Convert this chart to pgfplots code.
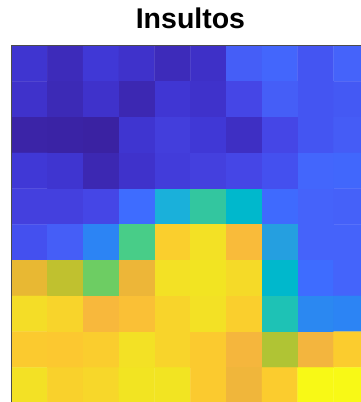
\documentclass[border=0pt]{standalone}
\usepackage{fontspec}
\setmainfont{Liberation Sans}
\usepackage{pgfplots}
\pgfplotsset{compat=1.18}
\pgfplotsset{
  colormap={insult}{
    rgb255(0pt)=(58,34,162);
    rgb255(3pt)=(60,40,178);
    rgb255(6pt)=(63,50,203);
    rgb255(8pt)=(64,56,214);
    rgb255(10pt)=(68,64,222);
    rgb255(11pt)=(69,70,230);
    rgb255(13pt)=(68,80,239);
    rgb255(17pt)=(69,99,250);
    rgb255(20pt)=(62,108,255);
    rgb255(27pt)=(44,132,244);
    rgb255(33pt)=(37,159,224);
    rgb255(38pt)=(26,176,218);
    rgb255(40pt)=(0,184,204);
    rgb255(45pt)=(30,194,181);
    rgb255(48pt)=(51,198,159);
    rgb255(52pt)=(72,205,136);
    rgb255(56pt)=(109,205,99);
    rgb255(66pt)=(176,196,52);
    rgb255(68pt)=(192,193,47);
    rgb255(74pt)=(232,184,51);
    rgb255(78pt)=(243,181,62);
    rgb255(80pt)=(248,184,60);
    rgb255(83pt)=(252,200,48);
    rgb255(88pt)=(249,209,44);
    rgb255(93pt)=(243,224,38);
    rgb255(96pt)=(242,228,34);
    rgb255(100pt)=(248,249,22)
  }
}
\begin{document}
\begin{tikzpicture}
\useasboundingbox (0,0) rectangle (361pt,402pt);
\clip (0,0) rectangle (361pt,402pt);
\begin{axis}[
  at={(11.7pt,356.3pt)}, anchor=north west,
  scale only axis, width=357.5pt, height=357.5pt,
  xmin=-0.5, xmax=9.5, ymin=-0.5, ymax=9.5,
  y dir=reverse,
  ticks=none,
  axis line style={draw=black!70, line width=0.8pt},
  colormap name=insult,
  point meta min=0, point meta max=100,
  title={Insultos},
  title style={font=\fontsize{28.5}{30}\selectfont\bfseries, at={(0.5,1)}, anchor=base, yshift=11.7pt},
  axis on top,
]
\addplot[matrix plot*, mesh/cols=10, point meta=explicit] table[meta=c] {
x y c
0 0 7
1 0 4
2 0 8
3 0 6
4 0 4
5 0 5.5
6 0 16
7 0 18
8 0 14
9 0 17
0 1 6
1 1 3.5
2 1 6
3 1 3
4 1 7.5
5 1 6
6 1 11
7 1 16
8 1 14
9 1 15
0 2 1
1 2 0.5
2 2 0
3 2 7
4 2 9.5
5 2 8
6 2 5
7 2 11
8 2 14
9 2 15.5
0 3 8
1 3 7
2 3 3
3 3 6
4 3 9
5 3 10
6 3 11
7 3 13
8 3 18
9 3 18.5
0 4 10
1 4 10
2 4 11
3 4 20
4 4 38
5 4 48
6 4 40
7 4 19.5
8 4 17
9 4 16.5
0 5 13
1 5 16
2 5 27
3 5 52
4 5 87
5 5 94
6 5 80.5
7 5 33
8 5 17
9 5 17
0 6 74
1 6 68
2 6 56
3 6 76
4 6 94
5 6 96
6 6 91
7 6 40
8 6 20
9 6 17.5
0 7 92
1 7 89
2 7 80
3 7 81.5
4 7 89
5 7 94
6 7 87
7 7 45
8 7 28
9 7 27
0 8 84
1 8 83
2 8 86
3 8 94
4 8 89
5 8 84
6 8 79
7 8 66
8 8 78
9 8 85
0 9 94
1 9 88
2 9 90
3 9 96
4 9 96
5 9 84
6 9 77
7 9 85
8 9 100
9 9 100
};
\end{axis}
\end{tikzpicture}
\end{document}
